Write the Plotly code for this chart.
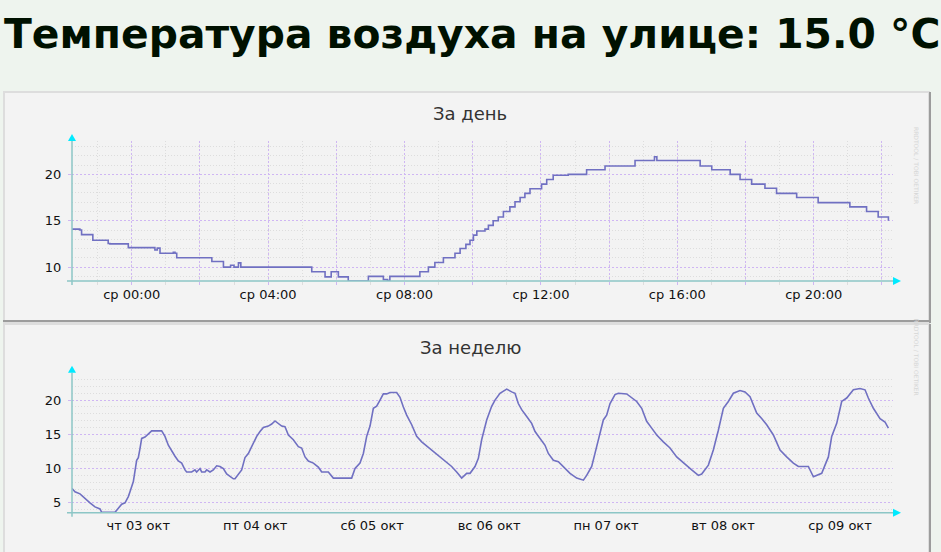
import pandas as pd
import plotly.graph_objects as go

W, H = 941, 552

# ---------------- data ----------------
page_title = "Температура воздуха на улице: 15.0 °C"
day_title = "За день"
week_title = "За неделю"

day_start = pd.Timestamp("2024-10-09 00:00")
day_hours = [-1.75, -1.52, -1.47, -1.14, -0.69, -0.64, -0.10, 0.68, 0.75, 0.83,
             1.22, 1.27, 1.32, 2.35, 2.69, 2.90, 3.00, 3.13, 3.20, 5.28,
             5.67, 5.85, 6.06, 6.35, 6.94, 7.38, 7.50, 7.57, 8.45, 8.70,
             8.89, 9.14, 9.48, 9.63, 9.80, 9.92, 10.02, 10.12, 10.36, 10.46,
             10.60, 10.75, 10.90, 11.09, 11.24, 11.39, 11.53, 11.68, 12.02, 12.17,
             12.36, 12.80, 13.34, 13.88, 14.76, 15.33, 15.40, 16.67, 17.01, 17.55,
             17.84, 18.18, 18.57, 18.91, 19.50, 20.13, 21.06, 21.55, 21.89, 22.19]
day_temp = [14.1, 14.0, 13.5, 12.9, 12.55, 12.5, 12.1, 11.85, 12.05, 11.5,
            11.6, 11.5, 11.0, 10.6, 10.0, 10.2, 10.0, 10.45, 10.0, 9.5,
            8.95, 9.5, 8.95, 8.5, 9.0, 8.65, 8.55, 9.0, 9.5, 10.0,
            10.5, 11.0, 11.5, 12.0, 12.45, 12.9, 13.45, 13.9, 14.1, 14.5,
            15.0, 15.4, 16.0, 16.5, 17.05, 17.5, 17.95, 18.45, 18.95, 19.45,
            19.9, 20.0, 20.5, 20.9, 21.5, 21.9, 21.5, 20.9, 20.5, 20.0,
            19.45, 18.95, 18.5, 17.95, 17.5, 16.95, 16.5, 16.0, 15.4, 15.0]
day_tick_hours = [0, 2, 4, 6, 8, 10, 12, 14, 16, 18, 20, 22]
day_tick_text = ["ср 00:00", "", "ср 04:00", "", "ср 08:00", "",
                 "ср 12:00", "", "ср 16:00", "", "ср 20:00", ""]

week_start = pd.Timestamp("2024-10-03 00:00")
week_hours = [-1.60, -0.99, 0.04, 1.07, 2.09, 3.12, 4.15, 4.49, 7.22, 7.91,
              8.59, 9.28, 9.96, 10.30, 10.99, 11.67, 12.01, 12.35, 12.70, 13.38,
              14.06, 14.75, 16.80, 17.48, 18.17, 18.85, 19.54, 20.22, 20.91, 21.59,
              21.93, 22.96, 23.64, 23.98, 24.67, 25.01, 25.69, 26.04, 26.72, 27.40,
              28.09, 28.77, 29.46, 30.14, 30.82, 31.51, 31.85, 32.53, 33.22, 33.90,
              34.59, 35.27, 36.30, 36.98, 37.67, 38.69, 39.38, 40.06, 40.74, 41.43,
              42.11, 42.80, 43.82, 44.85, 45.53, 46.22, 46.90, 47.93, 48.95, 49.64,
              51.00, 52.03, 55.79, 56.48, 57.50, 58.19, 58.87, 59.56, 60.24, 60.92,
              61.61, 62.29, 62.98, 63.66, 65.03, 65.71, 66.40, 67.08, 68.11, 69.13,
              70.16, 71.18, 72.21, 73.24, 74.26, 75.29, 76.31, 77.34, 78.37, 79.39,
              80.08, 81.10, 81.79, 82.47, 83.50, 84.52, 85.21, 86.23, 87.60, 88.63,
              89.31, 89.99, 90.68, 91.71, 92.73, 93.42, 94.44, 95.47, 96.15, 97.18,
              98.21, 99.23, 100.60, 101.97, 103.34, 104.02, 105.05, 106.07, 107.44, 108.12,
              108.81, 109.83, 110.52, 112.23, 113.25, 114.28, 115.31, 116.33, 117.36, 118.39,
              119.75, 121.12, 122.49, 123.86, 125.57, 126.94, 127.62, 128.99, 130.01, 131.04,
              132.07, 133.09, 134.12, 135.49, 136.51, 137.54, 138.91, 139.93, 140.96, 142.33,
              143.70, 145.06, 146.43, 147.46, 149.51, 150.54, 151.22, 152.25, 152.93, 153.62,
              154.30, 155.33, 156.35, 157.38, 158.75, 160.11, 161.14, 161.82, 162.85, 164.22,
              165.24, 165.93]
week_temp = [7.1, 6.6, 6.3, 5.6, 5.0, 4.4, 4.1, 3.6, 3.6, 4.2,
             4.8, 5.0, 5.9, 6.6, 8.1, 11.2, 11.6, 12.9, 14.4, 14.6,
             15.1, 15.5, 15.5, 14.7, 13.4, 12.5, 11.8, 11.1, 10.8, 9.8,
             9.5, 9.5, 9.8, 9.5, 10.0, 9.5, 9.5, 9.8, 9.5, 9.8,
             10.4, 10.3, 10.0, 9.2, 8.8, 8.5, 8.5, 9.2, 9.8, 11.6,
             12.2, 13.2, 14.7, 15.4, 16.0, 16.2, 16.5, 16.95, 16.6, 16.2,
             16.1, 14.9, 14.2, 13.2, 13.0, 11.7, 11.1, 10.8, 10.2, 9.5,
             9.5, 8.6, 8.6, 10.0, 10.8, 12.2, 14.7, 16.2, 18.8, 19.1,
             20.0, 20.9, 20.9, 21.1, 21.1, 20.4, 19.0, 17.8, 16.4, 14.7,
             13.9, 13.3, 12.7, 12.0, 11.5, 10.8, 10.3, 9.5, 8.6, 9.3,
             9.3, 10.3, 11.5, 14.2, 17.1, 19.1, 20.0, 21.0, 21.6, 21.2,
             21.0, 19.5, 18.6, 17.6, 16.6, 15.4, 14.4, 13.4, 12.2, 11.2,
             11.0, 10.3, 9.3, 8.6, 8.3, 9.0, 10.3, 13.2, 17.1, 17.8,
             19.5, 20.8, 21.0, 20.9, 20.3, 19.8, 18.8, 16.9, 15.9, 14.9,
             13.9, 13.0, 11.7, 10.8, 9.8, 9.0, 9.2, 10.5, 12.7, 15.6,
             18.8, 19.8, 21.0, 21.4, 21.2, 20.5, 18.1, 17.3, 16.4, 14.9,
             12.7, 11.7, 10.8, 10.3, 10.3, 8.8, 9.0, 9.3, 10.5, 11.7,
             14.7, 16.6, 19.8, 20.3, 21.5, 21.7, 21.5, 20.3, 18.8, 17.3,
             16.8, 15.9]
week_label_hours = [12, 36, 60, 84, 108, 132, 156]
week_tick_text = ["чт 03 окт", "пт 04 окт", "сб 05 окт", "вс 06 окт",
                  "пн 07 окт", "вт 08 окт", "ср 09 окт"]

# ---------------- styling ----------------
PAGE_BG = "#eef4ee"
PANEL_BG = "#f3f3f3"
BORDER_LIGHT = "#dddddd"
BORDER_DARK = "#9c9c9c"
AXIS_C = "#8cc6c6"
ARROW_C = "#00eaff"
MGRID = "#cfb6f3"
GRID = "#dddddd"
LINE_C = "#7070c2"
FONT = "DejaVu Sans"

def px(x):
    return x / W

def py(y):
    return 1 - y / H

def hrs(base, h):
    return [base + pd.Timedelta(hours=v) for v in h]

fig = go.Figure()
fig.add_trace(go.Scatter(x=hrs(day_start, day_hours), y=day_temp, mode="lines",
                         line=dict(color=LINE_C, width=1.6, shape="hv"),
                         xaxis="x", yaxis="y", hoverinfo="skip", showlegend=False))
fig.add_trace(go.Scatter(x=hrs(week_start, week_hours), y=week_temp, mode="lines",
                         line=dict(color=LINE_C, width=1.6),
                         xaxis="x2", yaxis="y2", hoverinfo="skip", showlegend=False))

# plot-area geometry (pixels)
PL, PR = 72, 893
D_TOP, D_BOT = 141, 281
W_TOP, W_BOT = 372.7, 512.7

day_range = [day_start + pd.Timedelta(hours=-1.751), day_start + pd.Timedelta(hours=22.325)]
week_range = [week_start + pd.Timedelta(hours=-1.60), week_start + pd.Timedelta(hours=166.88)]

tickfont = dict(family=FONT, size=13, color="#111111")
common_y = dict(tickmode="linear", tick0=0, dtick=5, showgrid=True, gridcolor=MGRID,
                griddash="2px,2px", gridwidth=1, ticks="outside", ticklen=3,
                tickcolor=MGRID, zeroline=False, showline=False, tickfont=tickfont,
                ticklabelstandoff=4, fixedrange=True,
                minor=dict(tickmode="linear", dtick=1, showgrid=True, gridcolor=GRID,
                           griddash="1px,2px", ticks="", ticklen=0))

fig.update_layout(
    width=W, height=H, margin=dict(l=0, r=0, t=0, b=0),
    paper_bgcolor=PAGE_BG, plot_bgcolor="rgba(0,0,0,0)",
    showlegend=False,
    xaxis=dict(type="date", domain=[px(PL), px(PR)], anchor="y", range=day_range,
               tickmode="array", tickvals=hrs(day_start, day_tick_hours), ticktext=day_tick_text,
               showgrid=True, gridcolor=MGRID, griddash="2px,2px", gridwidth=1,
               ticks="outside", ticklen=3, tickcolor=MGRID, showline=False, zeroline=False,
               tickfont=tickfont, fixedrange=True, ticklabelstandoff=-2,
               minor=dict(tickmode="linear", tick0=day_start, dtick=3600000, showgrid=True,
                          gridcolor=GRID, griddash="1px,2px", ticks="outside", ticklen=3,
                          tickcolor=GRID)),
    yaxis=dict(domain=[py(D_BOT), py(D_TOP)], anchor="x", range=[8.5, 23.6], **common_y),
    xaxis2=dict(type="date", domain=[px(PL), px(PR)], anchor="y2", range=week_range,
                tickmode="array", tickvals=hrs(week_start, week_label_hours),
                ticktext=week_tick_text, showgrid=False, ticks="", showline=False,
                zeroline=False, tickfont=tickfont, fixedrange=True, ticklabelstandoff=3),
    xaxis3=dict(type="date", domain=[px(PL), px(PR)], anchor="y2", overlaying="x2",
                range=week_range, tickmode="linear", tick0=week_start, dtick=86400000,
                showticklabels=False, showgrid=True, gridcolor=MGRID, griddash="2px,2px",
                gridwidth=1, ticks="outside", ticklen=3, tickcolor=MGRID, showline=False,
                zeroline=False, fixedrange=True,
                minor=dict(tickmode="linear", tick0=week_start, dtick=21600000, showgrid=True,
                           gridcolor=GRID, griddash="1px,2px", ticks="outside", ticklen=3,
                           tickcolor=GRID)),
    yaxis2=dict(domain=[py(W_BOT), py(W_TOP)], anchor="x2", range=[3.55, 24.0], **common_y),
)

shapes = []
# panels
for (top, bot) in [(92, 322), (324, 562)]:
    shapes.append(dict(type="rect", xref="paper", yref="paper", layer="below",
                       x0=px(4), x1=px(929), y0=py(bot), y1=py(top),
                       fillcolor=PANEL_BG, line=dict(color=BORDER_LIGHT, width=2)))
    shapes.append(dict(type="line", xref="paper", yref="paper", layer="below",
                       x0=px(930), x1=px(930), y0=py(bot + 1), y1=py(top),
                       line=dict(color=BORDER_DARK, width=2)))
shapes.append(dict(type="line", xref="paper", yref="paper", layer="below",
                   x0=px(3), x1=px(931), y0=py(321), y1=py(321),
                   line=dict(color=BORDER_DARK, width=2)))

# axis lines and arrows
for (top, bot) in [(D_TOP, D_BOT), (W_TOP, W_BOT)]:
    shapes.append(dict(type="line", xref="paper", yref="paper", layer="above",
                       x0=px(PL - 5), x1=px(PR + 1), y0=py(bot), y1=py(bot),
                       line=dict(color=AXIS_C, width=1.5)))
    shapes.append(dict(type="line", xref="paper", yref="paper", layer="above",
                       x0=px(PL), x1=px(PL), y0=py(bot + 4), y1=py(top),
                       line=dict(color=AXIS_C, width=1.5)))
    shapes.append(dict(type="path", xref="paper", yref="paper", layer="above",
                       path=f"M {px(PL-4)},{py(top)} L {px(PL+4)},{py(top)} L {px(PL)},{py(top-7)} Z",
                       fillcolor=ARROW_C, line=dict(color=ARROW_C, width=0)))
    shapes.append(dict(type="path", xref="paper", yref="paper", layer="above",
                       path=f"M {px(PR)},{py(bot-4)} L {px(PR)},{py(bot+4)} L {px(PR+8)},{py(bot)} Z",
                       fillcolor=ARROW_C, line=dict(color=ARROW_C, width=0)))

annotations = [
    dict(text=page_title, x=px(2), y=py(34), xref="paper", yref="paper",
         xanchor="left", yanchor="middle", showarrow=False,
         font=dict(family=FONT, size=40.8, color="#001100", weight="bold")),
    dict(text=day_title, x=px(470), y=py(113), xref="paper", yref="paper",
         xanchor="center", yanchor="middle", showarrow=False,
         font=dict(family=FONT, size=18, color="#333333")),
    dict(text=week_title, x=px(470), y=py(347), xref="paper", yref="paper",
         xanchor="center", yanchor="middle", showarrow=False,
         font=dict(family=FONT, size=18, color="#333333")),
]
for cy in (125, 357):
    annotations.append(dict(text="RRDTOOL / TOBI OETIKER", x=px(922), y=py(cy),
                            xref="paper", yref="paper", showarrow=False, textangle=90,
                            font=dict(family=FONT, size=6, color="#d6d6d6")))

fig.update_layout(shapes=shapes, annotations=annotations)

fig.write_html("out.html", config={"displayModeBar": False, "staticPlot": True},
               post_script="document.body.style.margin='0';document.body.style.padding='0';"
                           "document.body.style.overflow='hidden';")
